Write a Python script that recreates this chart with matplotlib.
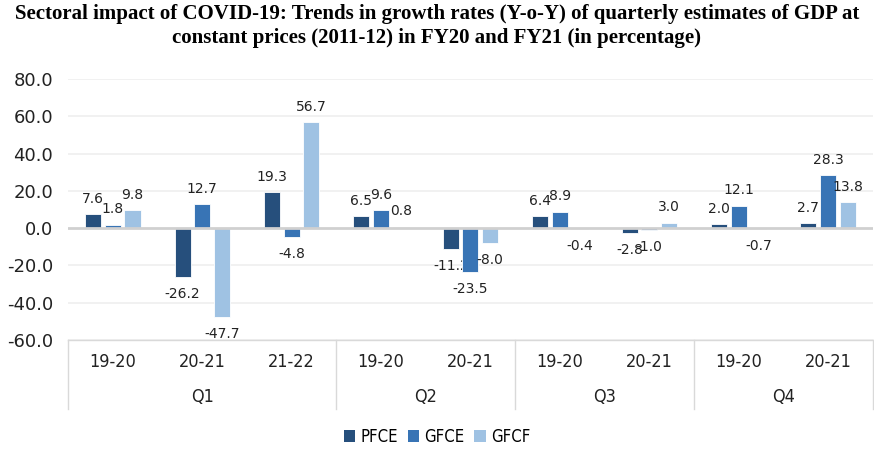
import matplotlib
matplotlib.use("Agg")
import matplotlib.pyplot as plt
import numpy as np
from matplotlib.patches import Patch

quarters = ["Q1", "Q2", "Q3", "Q4"]
years = [["19-20", "20-21", "21-22"], ["19-20", "20-21"], ["19-20", "20-21"], ["19-20", "20-21"]]
series_names = ["PFCE", "GFCE", "GFCF"]
pfce = [7.6, -26.2, 19.3, 6.5, -11.2, 6.4, -2.8, 2.0, 2.7]
gfce = [1.8, 12.7, -4.8, 9.6, -23.5, 8.9, -1.0, 12.1, 28.3]
gfcf = [9.8, -47.7, 56.7, 0.8, -8.0, -0.4, 3.0, -0.7, 13.8]
colors = ["#264f7c", "#3874b5", "#9fc2e3"]
title = ("Sectoral impact of COVID-19: Trends in growth rates (Y-o-Y) of quarterly estimates of GDP at\n"
         "constant prices (2011-12) in FY20 and FY21 (in percentage)")

narrow = dict(family="DejaVu Sans", stretch="condensed")

fig = plt.figure(figsize=(8.74, 4.5), dpi=100)
ax = fig.add_axes([0.078, 0.2444, 0.9205, 0.58])

n = len(pfce)
x = np.arange(n)
bw = 0.18
step = 0.22
for i, (vals, c) in enumerate(zip([pfce, gfce, gfcf], colors)):
    xs = x + (i - 1) * step
    ax.bar(xs, vals, width=bw, color=c, zorder=3, edgecolor="white", linewidth=0.6)
    for xi, v in zip(xs, vals):
        if v >= 0:
            ax.annotate(f"{v:.1f}", (xi, v), xytext=(0, 6), textcoords="offset points",
                        ha="center", va="bottom", fontsize=10, color="#222222",
                        family="DejaVu Sans")
        else:
            ax.annotate(f"{v:.1f}", (xi, v), xytext=(0, -7), textcoords="offset points",
                        ha="center", va="top", fontsize=10, color="#222222",
                        family="DejaVu Sans")

ax.set_xlim(-0.5, n - 0.5)
ax.set_ylim(-60, 80)
ax.set_yticks(np.arange(-60, 81, 20))
ax.set_yticklabels([f"{t:.1f}" for t in np.arange(-60, 81, 20)], fontsize=13, family="DejaVu Sans")
ax.tick_params(axis="y", length=0, pad=11, colors="#222222")
ax.tick_params(axis="x", length=0, labelbottom=False)
for s in ax.spines.values():
    s.set_visible(False)
for t in np.arange(-60, 81, 20):
    if t != 0:
        ax.axhline(t, color="#efefef", lw=1.2, zorder=0)
ax.axhline(0, color="#d0d0d0", lw=2, zorder=4)

# category axis with grouped labels
trans = ax.get_xaxis_transform()
pos = 0
bounds = [-0.5]
for q, ys in zip(quarters, years):
    for j, y in enumerate(ys):
        ax.text(pos + j, -0.083, y, transform=trans, ha="center", va="center",
                fontsize=13, color="#222222", **narrow)
    center = pos + (len(ys) - 1) / 2
    ax.text(center, -0.218, q, transform=trans, ha="center", va="center",
            fontsize=13, color="#222222", **narrow)
    pos += len(ys)
    bounds.append(pos - 0.5)
for b in bounds:
    ax.plot([b, b], [0, -0.265], transform=trans, color="#d9d9d9", lw=1, clip_on=False)
ax.plot([-0.5, n - 0.5], [0, 0], transform=trans, color="#d9d9d9", lw=1, clip_on=False)

fig.text(0.5, 0.99, title, ha="center", va="top", fontsize=15, fontweight="bold",
         family="Liberation Serif", linespacing=1.2)

handles = [Patch(facecolor=c, label=l) for c, l in zip(colors, series_names)]
fig.legend(handles=handles, loc="center", bbox_to_anchor=(0.5, 0.03), ncol=3, frameon=False,
           prop=dict(size=12, **narrow), handlelength=0.7, handleheight=0.7,
           handletextpad=0.3, columnspacing=0.6)

fig.savefig("out.png", dpi=100)
